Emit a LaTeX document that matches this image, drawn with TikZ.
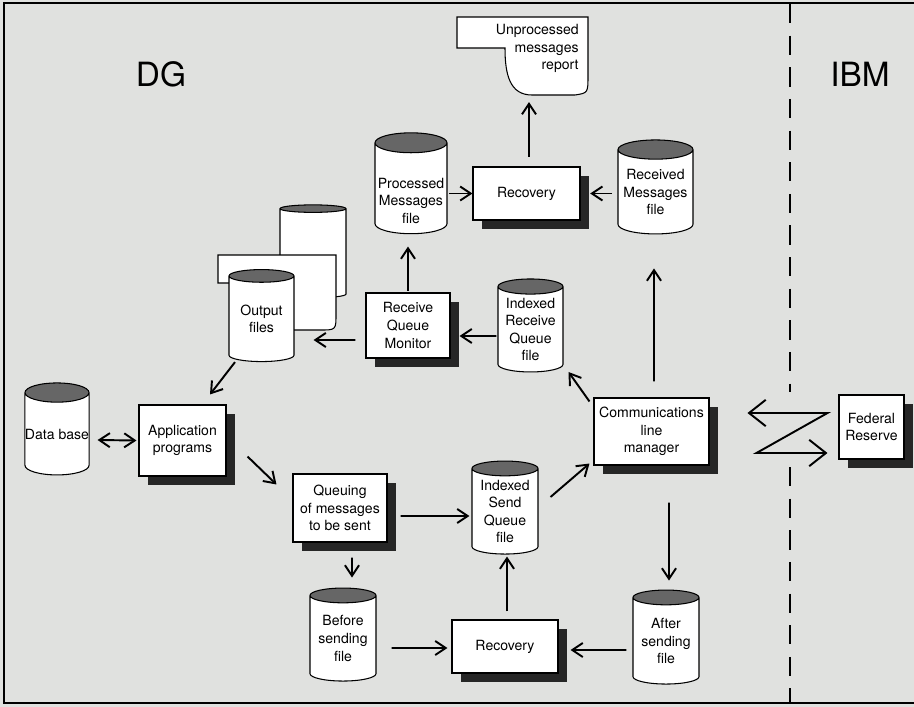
\documentclass[tikz,border=0pt]{standalone}
\usepackage{fontspec}
\setmainfont{TeX Gyre Heros}
\usetikzlibrary{shapes.geometric,shadows,arrows.meta,calc}
\definecolor{paper}{RGB}{224,225,223}

\tikzset{
  procbox/.style={draw, fill=white, line width=0.6pt, align=center, inner sep=1pt,
    drop shadow={opacity=1, fill=black!85, shadow xshift=5pt, shadow yshift=-5pt}},
  datafile/.style={cylinder, shape border rotate=90, aspect=0.3, draw, line width=0.6pt,
    cylinder uses custom fill, cylinder body fill=white, cylinder end fill=black!60,
    align=center, inner sep=0pt},
  flow/.style={line width=1.1pt, -{Straight Barb[length=6pt,width=8pt]}},
  zflow/.style={line width=1.1pt, {Straight Barb[length=9.5pt,width=15pt]}-{Straight Barb[length=9.5pt,width=15pt]}},
  bigtitle/.style={font=\fontsize{19}{22}\selectfont}
}

\begin{document}
\begin{tikzpicture}[x=0.02cm, y=-0.02cm, font=\fontsize{8}{10}\selectfont]
\useasboundingbox (0,0) rectangle (914,707);
\fill[paper] (0,0) rectangle (914,707);
\draw[line width=1.6pt] (914,3) -- (4,3) -- (4,703) -- (914,703);
% DG / IBM boundary
\draw[line width=0.8pt, dash pattern=on 11pt off 7pt] (790,4) -- (790,392);
\draw[line width=0.8pt, dash pattern=on 11pt off 7pt] (790,467) -- (790,703);
\node[bigtitle] (dg) at (161,74) {DG};
\node[bigtitle] (ibm) at (860,74) {IBM};

% report
\draw[fill=white, line width=0.6pt] (457,17) -- (588,17) -- (588,75) .. controls (588,93) .. (575,95)
	-- (532,95) .. controls (510,95) and (505,75) .. (505,48) -- (457,48) -- cycle;
\node[anchor=north east, align=right, inner sep=0pt] (unproc) at (579,24) {Unprocessed\\messages\\report};
\coordinate (unprocbot) at (529,95);

% processes
\node[procbox, minimum width=2.14cm, minimum height=1.06cm] (rec1) at (526.5,193.5) {Recovery};
\node[procbox, minimum width=1.68cm, minimum height=1.3cm] (rqm) at (408,325.5) {Receive\\Queue\\Monitor};
\node[procbox, minimum width=1.74cm, minimum height=1.42cm] (app) at (182.5,440.5) {Application\\programs};
\node[procbox, minimum width=1.88cm, minimum height=1.36cm] (queue) at (340,508) {Queuing\\of messages\\to be sent};
\node[procbox, minimum width=2.12cm, minimum height=1.06cm] (rec2) at (505,646.5) {Recovery};
\node[procbox, minimum width=2.3cm, minimum height=1.34cm] (clm) at (651.5,431.5) {Communications\\line\\manager};
\node[procbox, minimum width=1.3cm, minimum height=1.28cm] (fed) at (871.5,427) {Federal\\Reserve};

% files
\node[datafile, minimum width=1.44cm, minimum height=1.94cm] (proc) at (411,188.5) {\rule{0pt}{20pt}Processed\\Messages\\file};
\node[datafile, minimum width=1.5cm, minimum height=1.88cm] (recv) at (655.5,192) {Received\\Messages\\file};
\node[datafile, minimum width=1.3cm, minimum height=1.86cm] (irq) at (530.5,329.5) {Indexed\\Receive\\Queue\\file};
\node[datafile, minimum width=1.32cm, minimum height=1.86cm] (isq) at (505,511.5) {Indexed\\Send\\Queue\\file};
\node[datafile, minimum width=1.32cm, minimum height=1.86cm] (before) at (343,638.5) {Before\\sending\\file};
\node[datafile, minimum width=1.32cm, minimum height=1.88cm] (after) at (666,641) {After\\sending\\file};
\node[datafile, minimum width=1.28cm, minimum height=1.84cm] (db) at (57,434) {Data base};
% output files stack
\node[datafile, minimum width=1.32cm, minimum height=1.86cm] (outback) at (313,253.5) {\phantom{files}};
\draw[fill=white, line width=0.6pt] (218,255) -- (336,255) -- (336,314) .. controls (336,330) .. (320,330)
	-- (260,330) -- (260,283) -- (218,283) -- cycle;
\node[datafile, minimum width=1.3cm, minimum height=1.84cm] (out) at (261.5,319) {Output\\files};

% receive side
\draw[flow, shorten <=1pt] (proc.east |- rec1.west) -- (rec1.west);
\draw[flow, shorten <=3pt] (recv.west |- rec1.east) -- ([xshift=5.5pt]rec1.east);
\draw[flow, shorten <=5.5pt, shorten >=4pt] (rec1.north -| unprocbot) -- (unprocbot);
\draw[flow, shorten <=1pt, shorten >=7pt] (rqm.north) -- (rqm.north |- proc.south);
\draw[flow] ($(rqm.west)+(-10,14.5)$) -- ($(out.east)+(19,21)$);
\draw[flow] ($(irq.west)+(-1,6.5)$) -- ($(rqm.east)+(9,10.5)$);
\draw[flow] ($(clm.north west)+(-4,4)$) -- ($(irq.east)+(5,42.5)$);
\draw[flow] ($(clm.north)+(2.5,-16)$) -- ($(recv.south)+(-1.5,34)$);
% send side
\draw[flow] ($(out.south)+(-26.5,0)$) -- ($(app.north)+(27.5,-10)$);
\draw[flow, {Straight Barb[length=6pt,width=8pt]}-{Straight Barb[length=6pt,width=8pt]}] ($(db.east)+(8,6)$) -- ($(app.west)+(-2,0)$);
\draw[flow] ($(app.east)+(21,16)$) -- ($(queue.north west)+(-16,11)$);
\draw[flow] ($(queue.east)+(13,8)$) -- ($(isq.west)+(-2,4.5)$);
\draw[flow] ($(queue.south)+(12,15)$) -- ($(before.north)+(9,-10)$);
\draw[flow] ($(before.east)+(15,9.5)$) -- ($(rec2.west)+(-4,1.5)$);
\draw[flow] ($(rec2.north)+(2,-8)$) -- ($(isq.south)+(2,2)$);
\draw[flow] ($(after.west)+(-6,9)$) -- ($(rec2.east)+(12,3.5)$);
\draw[flow] ($(clm.south)+(17.5,37)$) -- ($(after.north)+(3,-9)$);
\draw[flow] ($(isq.east)+(12,-14.5)$) -- ($(clm.south west)+(-4,-2)$);
% line to the Federal Reserve
\draw[zflow] ($(fed.west)+(-91,-14)$) -- ++(80,0) -- ++(-71,40) -- ++(71,0);
\end{tikzpicture}
\end{document}
